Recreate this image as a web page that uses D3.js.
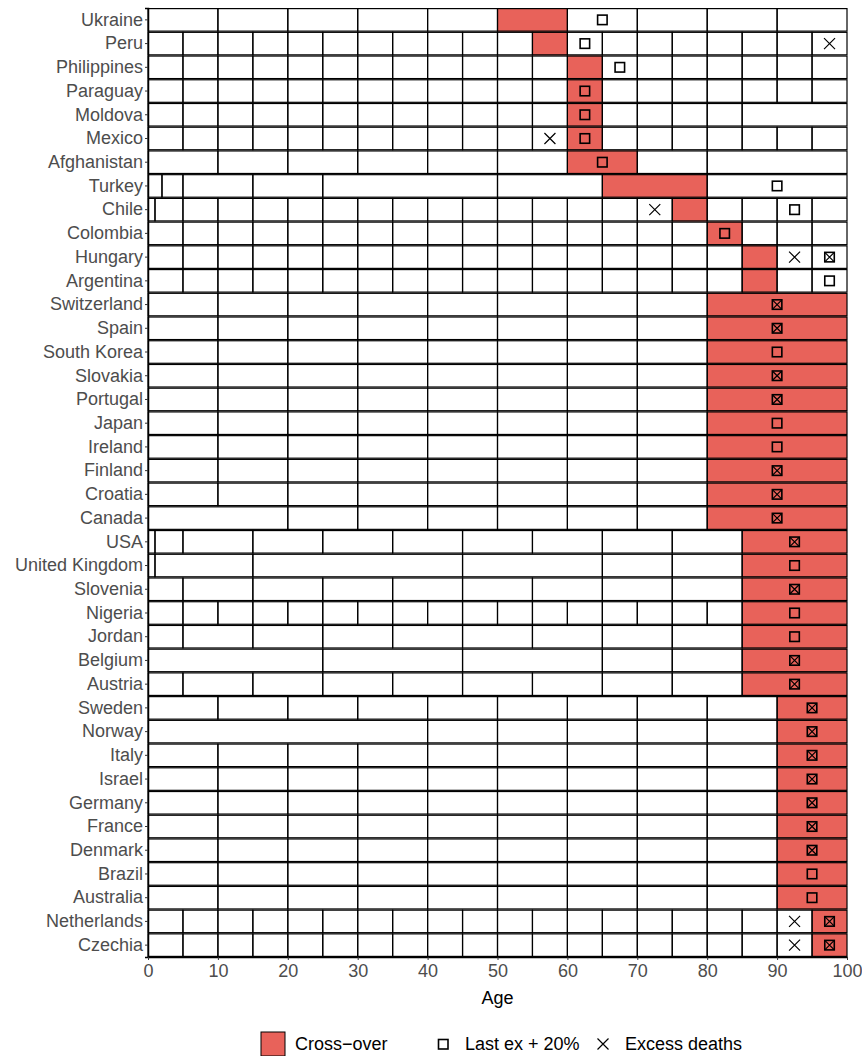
<!DOCTYPE html>
<html>
<head>
<meta charset="utf-8">
<script src="https://cdn.jsdelivr.net/npm/d3@7"></script>
<style>
  body { margin: 0; background: #fff; }
  text { font-family: "Liberation Sans", Arial, sans-serif; }
</style>
</head>
<body>
<div id="chart-container"></div>
<script>
// Age group break sets used by the countries
const b5 = [0, 5, 10, 15, 20, 25, 30, 35, 40, 45, 50, 55, 60, 65, 70, 75, 80, 85, 90, 95, 100];
const b10 = [0, 10, 20, 30, 40, 50, 60, 70, 80, 90, 100];
const b10to80 = [0, 10, 20, 30, 40, 50, 60, 70, 80, 100];
const b5to85 = [0, 5, 10, 15, 20, 25, 30, 35, 40, 45, 50, 55, 60, 65, 70, 75, 80, 85, 100];
const b10yr5 = [0, 5, 15, 25, 35, 45, 55, 65, 75, 85, 100];

const countries = ["Ukraine", "Peru", "Philippines", "Paraguay", "Moldova", "Mexico", "Afghanistan",
  "Turkey", "Chile", "Colombia", "Hungary", "Argentina", "Switzerland", "Spain", "South Korea",
  "Slovakia", "Portugal", "Japan", "Ireland", "Finland", "Croatia", "Canada", "USA",
  "United Kingdom", "Slovenia", "Nigeria", "Jordan", "Belgium", "Austria", "Sweden", "Norway",
  "Italy", "Israel", "Germany", "France", "Denmark", "Brazil", "Australia", "Netherlands", "Czechia"];

const ageBreaks = [
  b10, b5, b5, b5, b5to85, b5, b10to80,
  [0, 2, 5, 15, 25, 50, 65, 80, 100],
  [0, 1, 5, 10, 15, 20, 25, 30, 35, 40, 45, 50, 55, 60, 65, 70, 75, 80, 85, 90, 95, 100],
  b5, b5, b5,
  b10to80, b10to80, b10to80, b10to80, b10to80, b10to80, b10to80, b10to80, b10to80,
  [0, 20, 30, 40, 50, 60, 70, 80, 100],
  [0, 1, 5, 15, 25, 35, 45, 55, 65, 75, 85, 100],
  [0, 1, 15, 45, 65, 75, 85, 100],
  b10yr5, b5to85, b10yr5,
  [0, 25, 45, 65, 75, 85, 100],
  b10yr5,
  b10,
  [0, 40, 50, 60, 70, 80, 90, 100],
  b10, b10, b10, b10, b10, b10, b10,
  b5, b5
];

// Cross-over age interval
const crossStart = [50, 55, 60, 60, 60, 60, 60, 65, 75, 80, 85, 85,
  80, 80, 80, 80, 80, 80, 80, 80, 80, 80,
  85, 85, 85, 85, 85, 85, 85,
  90, 90, 90, 90, 90, 90, 90, 90, 90, 95, 95];
const crossEnd = [60, 60, 65, 65, 65, 65, 70, 80, 80, 85, 90, 90,
  100, 100, 100, 100, 100, 100, 100, 100, 100, 100,
  100, 100, 100, 100, 100, 100, 100,
  100, 100, 100, 100, 100, 100, 100, 100, 100, 100, 100];

// Last ex + 20% (age group midpoint)
const lastEx = [65, 62.5, 67.5, 62.5, 62.5, 62.5, 65, 90, 92.5, 82.5, 97.5, 97.5,
  90, 90, 90, 90, 90, 90, 90, 90, 90, 90,
  92.5, 92.5, 92.5, 92.5, 92.5, 92.5, 92.5,
  95, 95, 95, 95, 95, 95, 95, 95, 95, 97.5, 97.5];

// Excess deaths (age group midpoints)
const excess = [[], [97.5], [], [], [], [57.5], [], [], [72.5], [], [92.5, 97.5], [],
  [90], [90], [], [90], [90], [], [], [90], [90], [90],
  [92.5], [], [92.5], [], [], [92.5], [92.5],
  [95], [95], [95], [95], [95], [95], [95], [], [], [92.5, 97.5], [92.5, 97.5]];

const xTicks = [0, 10, 20, 30, 40, 50, 60, 70, 80, 90, 100];

// Chart dimensions
const width = 862;
const height = 1056;
const marginTop = 8;
const marginRight = 15;
const marginBottom = 99;
const marginLeft = 148;
const red = "#e8625a";
const fontSize = "18px";

const x = d3.scaleLinear()
    .domain([0, 100])
    .range([marginLeft, width - marginRight]);

const y = d3.scaleBand()
    .domain(countries)
    .range([marginTop, height - marginBottom])
    .padding(0);

const svg = d3.create("svg")
    .attr("width", width)
    .attr("height", height)
    .style("background", "#fff");

// Build the cells from the break arrays
const cells = [];
countries.forEach((c, i) => {
  const br = ageBreaks[i];
  for (let k = 0; k < br.length - 1; k++) {
    cells.push({ country: c, lo: br[k], hi: br[k + 1] });
  }
});

// Cross-over fills first, then the group outlines on top
svg.append("g")
  .selectAll("rect")
  .data(countries)
  .join("rect")
    .attr("x", (d, i) => x(crossStart[i]))
    .attr("y", d => y(d))
    .attr("width", (d, i) => x(crossEnd[i]) - x(crossStart[i]))
    .attr("height", y.bandwidth())
    .attr("fill", red);

svg.append("g")
  .selectAll("rect")
  .data(cells)
  .join("rect")
    .attr("x", d => x(d.lo))
    .attr("y", d => y(d.country) + 0.6)
    .attr("width", d => x(d.hi) - x(d.lo))
    .attr("height", y.bandwidth() - 1.2)
    .attr("fill", "none")
    .attr("stroke", "#000")
    .attr("stroke-width", 1.2);

// Markers
const sq = 9.5;
svg.append("g")
  .selectAll("rect")
  .data(countries)
  .join("rect")
    .attr("x", (d, i) => x(lastEx[i]) - sq / 2)
    .attr("y", d => y(d) + y.bandwidth() / 2 - sq / 2)
    .attr("width", sq)
    .attr("height", sq)
    .attr("fill", "none")
    .attr("stroke", "#000")
    .attr("stroke-width", 1.6);

const crosses = [];
countries.forEach((c, i) => excess[i].forEach(a => crosses.push({
  country: c, age: a, inSquare: a === lastEx[i]
})));

svg.append("g")
  .selectAll("path")
  .data(crosses)
  .join("path")
    .attr("transform", d => `translate(${x(d.age)},${y(d.country) + y.bandwidth() / 2})`)
    .attr("d", d => {
      const h = d.inSquare ? sq / 2 : 5.5;
      return `M${-h},${-h}L${h},${h}M${-h},${h}L${h},${-h}`;
    })
    .attr("stroke", "#000")
    .attr("stroke-width", 1.2)
    .attr("fill", "none");

// Axes
const yAxis = svg.append("g")
    .attr("transform", `translate(${marginLeft},0)`)
    .call(d3.axisLeft(y).tickSize(3).tickPadding(2));
yAxis.select(".domain").attr("stroke", "#000").attr("stroke-width", 1.5);
yAxis.selectAll(".tick line").attr("stroke", "#333");
yAxis.selectAll(".tick text")
    .attr("fill", "#4d4d4d")
    .style("font-size", fontSize)
    .style("font-family", "'Liberation Sans', Arial, sans-serif");

const xAxis = svg.append("g")
    .attr("transform", `translate(0,${height - marginBottom})`)
    .call(d3.axisBottom(x).tickValues(xTicks).tickSize(3).tickPadding(4).tickSizeOuter(0));
xAxis.select(".domain").attr("stroke", "#000").attr("stroke-width", 1.5);
xAxis.selectAll(".tick line").attr("stroke", "#333");
xAxis.selectAll(".tick text")
    .attr("fill", "#4d4d4d")
    .style("font-size", fontSize)
    .style("font-family", "'Liberation Sans', Arial, sans-serif");

svg.append("text")
    .attr("x", (x(0) + x(100)) / 2)
    .attr("y", 1004)
    .attr("text-anchor", "middle")
    .style("font-size", fontSize)
    .text("Age");

// Legend
const legend = svg.append("g").style("font-size", fontSize);
legend.append("rect")
    .attr("x", 261).attr("y", 1032).attr("width", 24).attr("height", 24)
    .attr("fill", red).attr("stroke", "#000").attr("stroke-width", 1);
legend.append("text")
    .attr("x", 295).attr("y", 1050)
    .text("Cross\u2212over");
legend.append("rect")
    .attr("x", 438.5).attr("y", 1039.5).attr("width", sq).attr("height", sq)
    .attr("fill", "none").attr("stroke", "#000").attr("stroke-width", 1.6);
legend.append("text")
    .attr("x", 465).attr("y", 1050)
    .text("Last ex + 20%");
legend.append("path")
    .attr("d", "M597.5,1038.5L608.5,1049.5M597.5,1049.5L608.5,1038.5")
    .attr("stroke", "#000").attr("stroke-width", 1.2);
legend.append("text")
    .attr("x", 625).attr("y", 1050)
    .text("Excess deaths");

d3.select("#chart-container").append(() => svg.node());
</script>
</body>
</html>
